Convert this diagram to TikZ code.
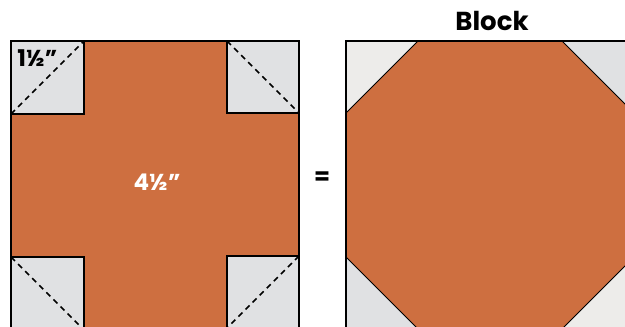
\documentclass[tikz,border=0pt]{standalone}
\usepackage{fontspec}
\setmainfont{Poppins}
\definecolor{rust}{HTML}{CE6F40}
\definecolor{greyA}{HTML}{E0E1E3}
\definecolor{greyB}{HTML}{EDECEA}
\tikzset{
  outline/.style={draw=black, line width=0.7pt},
  cutline/.style={draw=black, line width=0.8pt, dash pattern=on 2.8pt off 2.2pt},
  lbl/.style={font=\bfseries\fontsize{11.5}{13}\selectfont, inner sep=0pt}
}
\begin{document}
\begin{tikzpicture}[x=0.5pt,y=-0.5pt]
\useasboundingbox (0,0) rectangle (625,326);
\clip (0,0) rectangle (625,326);
% ---- left unit ----
\fill[rust] (11,41) rectangle (299,329);
\draw[outline] (11,41) rectangle (299,329);
\filldraw[fill=greyA, outline] (11,41) rectangle (84,114);
\filldraw[fill=greyA, outline] (227,41) rectangle (299,113);
\filldraw[fill=greyA, outline] (11,257) rectangle (84,330);
\filldraw[fill=greyA, outline] (227,256) rectangle (299,329);
\draw[cutline] (11,114) -- (84,41);
\draw[cutline] (227,41) -- (299,113);
\draw[cutline] (11,257) -- (84,330);
\draw[cutline] (299,256) -- (226,329);
\node[lbl, anchor=north west] (small) at (17,49) {1½"};
\node[lbl, text=white] (big) at (157,182) {4½"};
% ---- equals ----
\node[lbl] (eq) at (322,178) {=};
% ---- right block ----
\fill[greyB] (346,41) -- (418,41) -- (346,113) -- cycle;
\fill[greyA] (562,41) -- (634,41) -- (634,113) -- cycle;
\fill[greyA] (346,257) -- (346,329) -- (418,329) -- cycle;
\fill[greyB] (634,257) -- (634,329) -- (562,329) -- cycle;
\filldraw[fill=rust, draw=black, line width=0.5pt]
  (418,41) -- (562,41) -- (634,113) -- (634,257) -- (562,329) -- (418,329) -- (346,257) -- (346,113) -- cycle;
\draw[outline] (346,41) rectangle (634,329);
\node[lbl, font=\bfseries\fontsize{13}{15}\selectfont] (title) at (492,21) {Block};
\end{tikzpicture}
\end{document}
